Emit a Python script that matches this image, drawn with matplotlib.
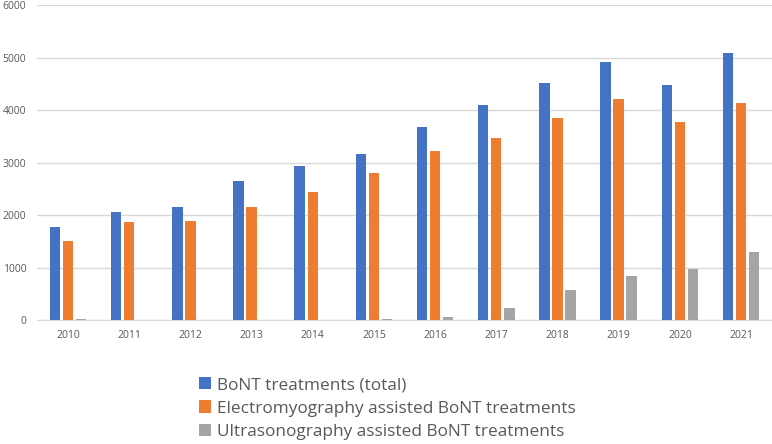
import matplotlib
matplotlib.use("Agg")
import matplotlib.pyplot as plt
import numpy as np
from matplotlib.patches import Patch

years = ["2010", "2011", "2012", "2013", "2014", "2015", "2016", "2017", "2018", "2019", "2020", "2021"]
bont_total = [1780, 2068, 2157, 2647, 2940, 3163, 3685, 4098, 4512, 4926, 4480, 5091]
emg_assisted = [1514, 1877, 1896, 2157, 2450, 2806, 3220, 3475, 3850, 4213, 3774, 4137]
us_assisted = [20, 0, 0, 0, 0, 20, 57, 223, 566, 834, 980, 1298]
series_labels = ["BoNT treatments (total)",
                 "Electromyography assisted BoNT treatments",
                 "Ultrasonography assisted BoNT treatments"]
colors = ["#4472C4", "#ED7D31", "#A5A5A5"]
yticks = [0, 1000, 2000, 3000, 4000, 5000, 6000]

W, H = 772, 444
fig = plt.figure(figsize=(W / 100, H / 100), dpi=100)
ax = fig.add_axes([37.4 / W, 1 - 320 / H, (771.6 - 37.4) / W, (320 - 5.5) / H])

x = np.arange(len(years))
bw = 0.17
step = 0.213
for i, (vals, c) in enumerate(zip([bont_total, emg_assisted, us_assisted], colors)):
    ax.bar(x + (i - 1) * step, vals, width=bw, color=c, zorder=3)

ax.set_xlim(-0.5, len(years) - 0.5)
ax.set_ylim(0, 6000)
ax.set_yticks(yticks)
ax.set_yticklabels([str(v) for v in yticks])
ax.set_xticks(x)
ax.set_xticklabels(years)
ax.grid(axis="y", color="#D9D9D9", linewidth=1, zorder=0)
for s in ["top", "right", "left"]:
    ax.spines[s].set_visible(False)
ax.spines["bottom"].set_color("#D9D9D9")
ax.tick_params(axis="both", length=0, labelsize=7.5, colors="#595959")
ax.tick_params(axis="y", pad=8)
ax.tick_params(axis="x", pad=7)
for lbl in ax.get_xticklabels() + ax.get_yticklabels():
    lbl.set_fontfamily("Open Sans")

handles = [Patch(facecolor=c, edgecolor="none") for c in colors]
leg = fig.legend(handles, series_labels, loc="center left",
                 bbox_to_anchor=(190 / W, 1 - 408.5 / H), frameon=False,
                 handlelength=0.7, handleheight=0.7, handletextpad=0.35,
                 labelspacing=0.42, borderpad=0,
                 prop={"family": "Open Sans", "size": 12.4})
for t in leg.get_texts():
    t.set_color("#595959")

fig.savefig("out.png", dpi=100)
